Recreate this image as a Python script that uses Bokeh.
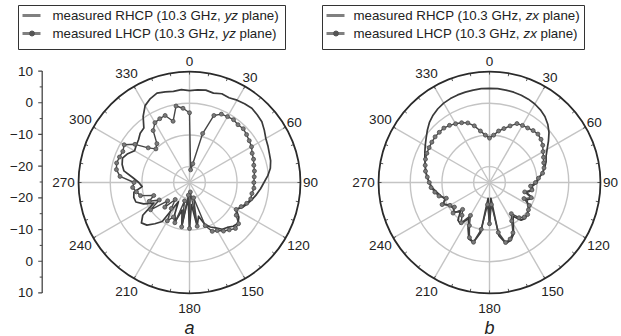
import numpy as np
from bokeh.plotting import figure
from bokeh.models import Range1d
from bokeh.core.properties import value
from bokeh.embed import file_html
from bokeh.resources import INLINE

# ---------------- data (dB, sampled every 5 degrees, clockwise from top) ----------------
angles_deg = list(range(0, 360, 5))

rhcp_yz = [4.0, 4.3, 4.6, 4.2, 4.8, 4.5, 5.0, 5.3, 5.6, 5.2, 4.8, 3.8,
           2.8, 2.3, 1.8, 1.5, 0.9, -0.2, -1.5, -2.5, -3.5, -4.5, -5.5, -6.5,
           -8.0, -6.0, -5.0, -5.5, -6.5, -7.0, -8.5, -9.5, -11.0, -14.0, -11.0, -18.0,
           -10.5, -20.0, -11.0, -16.0, -12.0, -14.0, -18.0, -10.0, -8.0, -6.0, -5.2, -7.0,
           -12.0, -9.0, -7.0, -6.8, -7.2, -10.0, -9.0, -7.0, -4.0, -3.0, -2.5, -3.5,
           -5.0, -4.5, -4.0, -3.0, -2.6, 0.5, 3.0, 4.2, 5.0, 4.6, 4.2, 4.4]

lhcp_yz = [-3.0, -21.0, -19.0, -9.0, -2.5, -1.2, -1.0, -0.8, -1.2, -1.0, -1.5, -2.0,
           -2.4, -3.2, -3.5, -4.0, -4.2, -4.5, -4.7, -4.6, -5.0, -5.0, -5.8, -7.0,
           -8.0, -7.0, -4.8, -4.5, -5.5, -6.3, -7.5, -8.0, -10.5, -20.0, -11.0, -22.0,
           -10.5, -21.0, -10.8, -19.0, -11.5, -13.0, -11.0, -15.0, -18.0, -14.0, -16.0, -10.0,
           -14.0, -11.0, -13.0, -9.0, -8.0, -7.0, -7.5, -3.0, -1.6, -1.2, -1.5, -1.8,
           -1.2, -4.0, -8.0, -10.0, -9.0, -5.0, -3.2, -2.8, -2.5, -5.0, -0.5, -1.5]

rhcp_zx = [4.7, 4.7, 4.6, 4.5, 4.3, 4.0, 3.6, 3.0, 2.2, 1.0, -0.5, -2.3,
           -4.0, -5.3, -6.0, -7.0, -8.0, -9.5, -10.0, -11.5, -11.0, -13.0, -10.5, -12.0,
           -11.0, -10.0, -9.5, -9.0, -9.5, -12.0, -10.0, -7.0, -5.5, -5.2, -8.0, -20.0,
           -12.0, -20.0, -9.0, -5.5, -6.0, -9.0, -12.0, -9.0, -9.5, -12.0, -10.5, -11.0,
           -10.5, -9.0, -10.0, -9.0, -8.0, -6.8, -6.0, -5.2, -4.6, -4.0, -3.3, -2.5,
           -1.6, -0.6, 0.6, 1.8, 2.7, 3.4, 3.9, 4.2, 4.4, 4.5, 4.6, 4.7]

lhcp_zx = [-11.0, -10.0, -8.5, -7.4, -6.0, -4.5, -4.2, -4.0, -3.6, -3.4, -3.8, -4.5,
           -5.5, -6.2, -6.8, -7.2, -8.0, -9.5, -10.5, -12.0, -11.4, -13.5, -11.0, -13.0,
           -10.5, -10.0, -9.3, -9.5, -10.5, -13.0, -11.0, -7.5, -6.0, -5.4, -9.0, -18.0,
           -12.0, -18.0, -10.0, -5.5, -6.5, -10.0, -13.0, -9.5, -11.5, -13.0, -10.0, -11.5,
           -10.6, -8.5, -10.5, -8.5, -7.5, -6.5, -6.0, -5.3, -4.5, -4.0, -3.5, -3.2,
           -3.0, -2.8, -2.6, -2.6, -2.6, -3.0, -3.6, -4.2, -5.0, -6.5, -8.5, -10.0]

angle_ticks = [0, 30, 60, 90, 120, 150, 180, 210, 240, 270, 300, 330]
angle_labels = ["0", "30", "60", "90", "120", "150", "180", "210", "240", "270", "300", "330"]
grid_db = [-20, -10, 0]
r_min_db, r_max_db = -25, 10

axis_ticks_db = [10, 0, -10, -20]
axis_tick_labels = ["10", "0", "\u221210", "\u221220"]
axis_minor_db = [5, -5, -15]

legend_rows_yz = [("measured RHCP (10.3 GHz,", "yz", "plane)"),
                  ("measured LHCP (10.3 GHz,", "yz", "plane)")]
legend_rows_zx = [("measured RHCP (10.3 GHz,", "zx", "plane)"),
                  ("measured LHCP (10.3 GHz,", "zx", "plane)")]
panel_letters = ["a", "b"]

# ---------------- layout ----------------
W, H = 621, 336
K = 3.17                      # pixels per dB
R_OUT = K * (r_max_db - r_min_db)
FONT = value("Liberation Sans")
CURVE = "#3a3a3a"
GRID = "#c4c4c4"

p = figure(width=W, height=H, output_backend="svg", toolbar_location=None,
           x_range=Range1d(0, W), y_range=Range1d(H, 0),
           x_axis_location=None, y_axis_location=None, min_border=0)
p.grid.visible = False
p.outline_line_color = None
p.background_fill_color = "white"


def to_xy(cx, cy, ang_deg, db):
    th = np.radians(np.asarray(ang_deg, dtype=float))
    r = K * (np.clip(np.asarray(db, dtype=float), r_min_db, r_max_db) - r_min_db)
    return cx + r * np.sin(th), cy - r * np.cos(th)


def polar_panel(cx, cy, rhcp, lhcp, letter):
    th = np.radians(angle_ticks)
    p.segment(x0=[cx] * len(th), y0=[cy] * len(th),
              x1=list(cx + R_OUT * np.sin(th)), y1=list(cy - R_OUT * np.cos(th)),
              line_color=GRID, line_width=1.4)
    p.circle(x=[cx] * len(grid_db), y=[cy] * len(grid_db),
             radius=[K * (g - r_min_db) for g in grid_db],
             fill_color=None, line_color=GRID, line_width=1.4)
    mt = np.radians(np.arange(0, 360, 10))
    p.segment(x0=list(cx + R_OUT * np.sin(mt)), y0=list(cy - R_OUT * np.cos(mt)),
              x1=list(cx + (R_OUT - 3) * np.sin(mt)), y1=list(cy - (R_OUT - 3) * np.cos(mt)),
              line_color="#555555", line_width=1)
    p.circle(x=[cx], y=[cy], radius=[R_OUT], fill_color=None,
             line_color="#2a2a2a", line_width=1.8)
    lr = [121 if len(s) < 3 else 126 for s in angle_labels]
    lx = [cx + r * np.sin(np.radians(a)) for r, a in zip(lr, angle_ticks)]
    ly = [cy - r * np.cos(np.radians(a)) for r, a in zip(lr, angle_ticks)]
    p.text(x=lx, y=ly, text=angle_labels, text_font=FONT, text_font_size="13.5px",
           text_align="center", text_baseline="middle", text_color="#222222")
    ang_closed = angles_deg + [angles_deg[0] + 360]
    rx, ry = to_xy(cx, cy, ang_closed, rhcp + [rhcp[0]])
    p.line(x=list(rx), y=list(ry), line_color=CURVE, line_width=1.7, line_join="round")
    lx2, ly2 = to_xy(cx, cy, ang_closed, lhcp + [lhcp[0]])
    p.line(x=list(lx2), y=list(ly2), line_color="#454545", line_width=1.4, line_join="round")
    mx, my = to_xy(cx, cy, angles_deg, lhcp)
    p.scatter(x=list(mx), y=list(my), marker="circle", size=4.0,
              fill_color="#7a7a7a", line_color="#4a4a4a", line_width=0.8)
    p.text(x=[cx], y=[327], text=[letter], text_font=FONT, text_font_size="18px",
           text_font_style="italic", text_align="center", text_baseline="alphabetic",
           text_color="#222222")


# Arial / Liberation Sans advance widths (1/1000 em)
ADV = {' ': 278, '(': 333, ')': 333, ',': 278, '.': 278, 'C': 722, 'G': 778, 'H': 722,
       'L': 556, 'P': 667, 'R': 722, 'a': 556, 'd': 556, 'e': 556, 'l': 222, 'm': 833,
       'n': 556, 'p': 556, 'r': 333, 's': 500, 'u': 556, 'x': 500, 'y': 500, 'z': 500}


def tw(s, size):
    return sum(ADV.get(c, 556) for c in s) * size / 1000.0


def legend(x0, x1, y0, y1, rows, text_x):
    p.quad(left=[x0], right=[x1], top=[y0], bottom=[y1], fill_color="white",
           line_color="#333333", line_width=1)
    fs = 13.3
    row_y = [y0 + 10, y0 + 28]
    for i, (a, b, c) in enumerate(rows):
        yy = row_y[i]
        p.line(x=[x0 + 4, x0 + 22], y=[yy, yy], line_color="#808080", line_width=3)
        if i == 1:
            p.scatter(x=[x0 + 13.5], y=[yy], marker="circle", size=5,
                      fill_color="#555555", line_color="#555555")
        xa = text_x
        xb = xa + tw(a + " ", fs)
        xc = xb + tw(b + " ", fs)
        p.text(x=[xa], y=[yy], text=[a], text_font=FONT, text_font_size=f"{fs}px",
               text_baseline="middle", text_align="left", text_color="#222222")
        p.text(x=[xb], y=[yy], text=[b], text_font=FONT, text_font_size=f"{fs}px",
               text_font_style="italic", text_baseline="middle", text_align="left",
               text_color="#222222")
        p.text(x=[xc], y=[yy], text=[c], text_font=FONT, text_font_size=f"{fs}px",
               text_baseline="middle", text_align="left", text_color="#222222")


# left dB axis
AX_X, AX_CY = 41.7, 181.5
top_y = [AX_CY - K * (d - r_min_db) for d in axis_ticks_db]
bot_y = [AX_CY + K * (d - r_min_db) for d in axis_ticks_db]
p.segment(x0=[AX_X], y0=[AX_CY - R_OUT], x1=[AX_X], y1=[AX_CY + R_OUT],
          line_color="#444444", line_width=1.3)
maj_y = top_y + bot_y
p.segment(x0=[AX_X - 4] * len(maj_y), y0=maj_y, x1=[AX_X] * len(maj_y), y1=maj_y,
          line_color="#444444", line_width=1.2)
min_y = [AX_CY - K * (d - r_min_db) for d in axis_minor_db] + \
        [AX_CY + K * (d - r_min_db) for d in axis_minor_db] + [AX_CY]
p.segment(x0=[AX_X - 2.5] * len(min_y), y0=min_y, x1=[AX_X] * len(min_y), y1=min_y,
          line_color="#444444", line_width=1)
p.text(x=[32.5] * len(maj_y), y=maj_y, text=axis_tick_labels + axis_tick_labels,
       text_font=FONT, text_font_size="13.5px", text_align="right",
       text_baseline="middle", text_color="#222222")

polar_panel(189, 182, rhcp_yz, lhcp_yz, panel_letters[0])
polar_panel(489, 182, rhcp_zx, lhcp_zx, panel_letters[1])

legend(18, 285, 5, 49, legend_rows_yz, 52)
legend(322, 584, 5, 49, legend_rows_zx, 353)

open("out.html", "w").write(file_html(p, INLINE))
